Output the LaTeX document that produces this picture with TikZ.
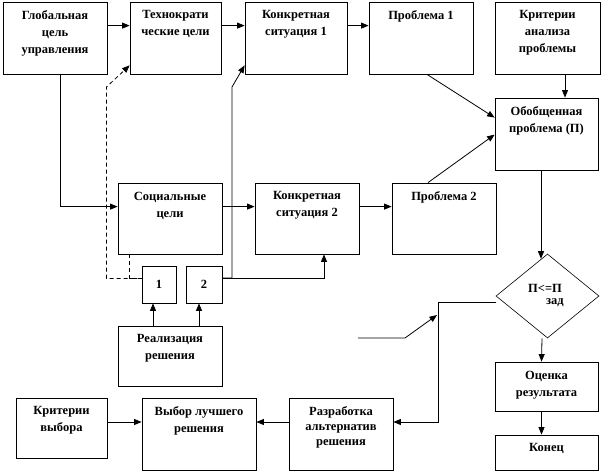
\documentclass[tikz,border=0pt]{standalone}
\usepackage{fontspec}
\setmainfont{Liberation Serif}
\usetikzlibrary{arrows.meta,shapes.geometric}
\begin{document}
\begin{tikzpicture}[x=1pt,y=-1pt,
  box/.style n args={2}{draw, line width=0.8pt, inner sep=0pt, minimum width=#1pt, minimum height=#2pt},
  lbl/.style={anchor=north, align=center, inner sep=0pt, yshift=-9pt,
    font=\bfseries\fontsize{12.5}{17}\selectfont},
  num/.style={font=\bfseries\fontsize{12.5}{17}\selectfont},
  arr/.style={line width=0.8pt, -{Triangle[length=7.5pt,width=6pt]}},
  dsh/.style={line width=1pt, dash pattern=on 4pt off 3pt},
]
\useasboundingbox (0,0) rectangle (613,474);
% top row
\node[box={104}{72}, label={[lbl]north:Глобальная\\цель\\управления}] (A) at (55,38) {};
\node[box={91}{72}, label={[lbl]north:Технократи\\ческие цели}] (B) at (175.5,38) {};
\node[box={102}{72}, label={[lbl]north:Конкретная\\ситуация 1}] (C) at (296,38) {};
\node[box={104}{72}, label={[lbl]north:Проблема 1}] (D) at (421,38) {};
\node[box={105}{72}, label={[lbl]north:Критерии\\анализа\\проблемы}] (E) at (547.5,38) {};
\node[box={103}{72}, label={[lbl]north:Обобщенная\\проблема (П)}] (F) at (546.5,134) {};
% middle row
\node[box={104}{71}, label={[lbl]north:Социальные\\цели}] (G) at (170,218.5) {};
\node[box={104}{71}, label={[lbl]north:Конкретная\\ситуация 2}] (H) at (307,218.5) {};
\node[box={104}{71}, label={[lbl]north:Проблема 2}] (I) at (444,218.5) {};
\node[box={34}{37}, num] (P1) at (159,284.5) {1};
\node[box={36}{37}, num] (P2) at (204,284.5) {2};
\node[box={104}{60}, label={[lbl]north:Реализация\\решения}] (R) at (170,356) {};
\node[draw, line width=0.6pt, diamond, inner sep=0pt, minimum width=103pt, minimum height=84pt,
  label={[num, xshift=-2.5pt, yshift=8pt]center:П<=П},
  label={[num, xshift=7.5pt, yshift=-7pt]center:зад}] (Q) at (547.5,296) {};
\node[box={103}{49}, label={[lbl]north:Оценка\\результата}] (O) at (546.5,386.5) {};
\node[box={103}{35}, label={[lbl]north:Конец}] (K) at (546.5,452.5) {};
% bottom row
\node[box={91}{60}, label={[lbl]north:Критерии\\выбора}] (Kv) at (61.5,428) {};
\node[box={114}{72}, label={[lbl]north:Выбор лучшего\\решения}] (Vb) at (199,434) {};
\node[box={104}{72}, label={[lbl, font=\bfseries\fontsize{12.5}{15}\selectfont]north:Разработка\\альтернатив\\решения}] (Rz) at (341,434) {};
% helper coordinates
\coordinate (dk) at (106.5,87);
\coordinate (ck) at (232,87);
\coordinate (qk) at (438,422);
\coordinate (fs) at (358,338);
\coordinate (fb) at (405,338);
\coordinate (ft) at (437,315);
% connectors
\draw[arr] ([yshift=-24pt]A.north east) -- ([yshift=-24pt]B.north west);
\draw[arr] ([yshift=-24pt]B.north east) -- ([yshift=-24pt]C.north west);
\draw[arr] ([yshift=-24pt]C.north east) -- ([yshift=-24pt]D.north west);
\draw[arr] ([xshift=5pt]A.south) |- ([yshift=-24pt]G.north west);
\draw[arr] ([yshift=-24pt]G.north east) -- ([yshift=-24pt]H.north west);
\draw[arr] ([yshift=-24pt]H.north east) -- ([yshift=-24pt]I.north west);
\draw[arr] ([xshift=6pt]D.south) -- ([yshift=-20pt]F.north west);
\draw[arr] ([xshift=-16pt]I.north) -- ([yshift=-37pt]F.north west);
\draw[arr] ([xshift=17.5pt]E.south) -- ([xshift=18.5pt]F.north);
\draw[arr] ([xshift=-5.5pt]F.south) -- ([xshift=-5.5pt,yshift=-5pt]F.south |- Q.north);
\draw[arr] ([xshift=-5.5pt]Q.south) -- ([xshift=-5pt]O.north);
\draw[arr] ([xshift=-5pt]O.south) -- ([xshift=-5pt]K.north);
\draw[dsh] ([xshift=-40.5pt]G.south) |- ([yshift=6pt]P1.west);
\draw[dsh, arr] ([yshift=6pt]P1.west) -| (dk) -- ([yshift=9pt]B.south west);
\draw[arr] ([yshift=6.5pt]P2.east) -| (ck) -- ([yshift=9pt]C.south west);
\draw[arr] ([yshift=6.5pt]P2.east) -| ([xshift=17pt]H.south);
\draw[arr] ([xshift=-6pt]P1.south |- R.north) -- ([xshift=-6pt]P1.south);
\draw[arr] ([xshift=-5pt]P2.south |- R.north) -- ([xshift=-5pt]P2.south);
\draw[arr] ([yshift=-6pt]Q.west) -| (qk) -- ([yshift=12pt]Rz.east);
\draw[arr] (fs) -- (fb) -- (ft);
\draw[arr] ([yshift=6pt]Kv.east) -- ([yshift=12pt]Vb.west);
\draw[arr] ([yshift=12pt]Rz.west) -- ([yshift=12pt]Vb.east);
\end{tikzpicture}
\end{document}
